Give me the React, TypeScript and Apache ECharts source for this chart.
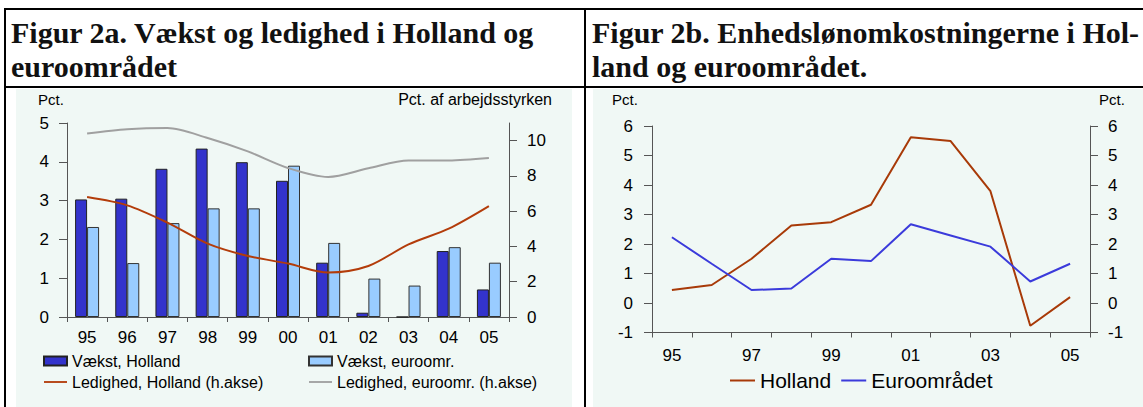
import React, { useEffect, useRef } from "react";
import * as echarts from "echarts";

const years = ["95", "96", "97", "98", "99", "00", "01", "02", "03", "04", "05"];
const growthNL = [3.03, 3.05, 3.82, 4.34, 3.99, 3.51, 1.4, 0.11, 0, 1.7, 0.71];
const growthEA = [2.32, 1.39, 2.42, 2.8, 2.8, 3.9, 1.91, 0.99, 0.81, 1.8, 1.4];
const unempNL = [6.8, 6.33, 5.35, 4.16, 3.46, 3.03, 2.52, 2.89, 4.12, 5.01, 6.29];
const unempEA = [10.4, 10.64, 10.71, 10.15, 9.39, 8.45, 7.94, 8.43, 8.87, 8.87, 9.01];
const ulcNL = [0.44, 0.61, 1.5, 2.63, 2.74, 3.33, 5.62, 5.49, 3.79, -0.77, 0.2];
const ulcEA = [2.23, 1.33, 0.44, 0.49, 1.5, 1.42, 2.67, 2.29, 1.91, 0.73, 1.33];
const rightTicks = [0, 2, 4, 6, 8, 10];

const SANS = "'Liberation Sans', Arial, sans-serif";
const SERIF = "'Liberation Serif', 'Times New Roman', serif";
const AXIS_COLOR = "#555";
const BG = "#f0f8f5";
const LINE_ICON = "path://M0,0H25V2H0Z";

export default function App() {
  const ref = useRef<HTMLDivElement>(null);
  useEffect(() => {
    if (!ref.current) return;
    const chart = echarts.init(ref.current, null, { renderer: "svg" });
    const axisLine = { show: true, onZero: false, lineStyle: { color: AXIS_COLOR, width: 1 } };
    const label = (extra: any = {}) => ({ color: "#000", fontSize: 17, fontFamily: SANS, ...extra });
    const titleFont = `bold 30px ${SERIF}`;
    chart.setOption({
      animation: false,
      backgroundColor: "#fff",
      grid: [
        { left: 67, right: 634, top: 123, bottom: 90 },
        { left: 652, right: 53, top: 126, bottom: 74.5 },
      ],
      xAxis: [
        {
          gridIndex: 0,
          type: "category",
          data: years,
          boundaryGap: true,
          axisLine,
          axisTick: { show: true, length: 5, interval: 0, lineStyle: { color: AXIS_COLOR } },
          axisLabel: label({ margin: 12, interval: 0 }),
        },
        {
          gridIndex: 1,
          type: "category",
          data: years,
          boundaryGap: true,
          axisLine,
          axisTick: { show: true, length: 5, interval: 0, lineStyle: { color: AXIS_COLOR } },
          axisLabel: label({ margin: 14, interval: 1 }),
        },
      ],
      yAxis: [
        {
          gridIndex: 0,
          type: "value",
          min: 0,
          max: 5,
          interval: 1,
          position: "left",
          axisLine,
          axisTick: { show: true, length: 8, lineStyle: { color: AXIS_COLOR } },
          splitLine: { show: false },
          axisLabel: label({ margin: 18 }),
        },
        {
          gridIndex: 0,
          type: "value",
          min: 0,
          max: 11,
          interval: 2,
          position: "right",
          axisLine,
          axisTick: { show: true, length: 8, customValues: rightTicks, lineStyle: { color: AXIS_COLOR } },
          splitLine: { show: false },
          axisLabel: label({ margin: 18, customValues: rightTicks }),
        },
        {
          gridIndex: 1,
          type: "value",
          min: -1,
          max: 6,
          interval: 1,
          position: "left",
          axisLine,
          axisTick: { show: true, length: 8, lineStyle: { color: AXIS_COLOR } },
          splitLine: { show: false },
          axisLabel: label({ margin: 19 }),
        },
        {
          gridIndex: 1,
          type: "value",
          min: -1,
          max: 6,
          interval: 1,
          position: "right",
          axisLine,
          axisTick: { show: true, length: 8, lineStyle: { color: AXIS_COLOR } },
          splitLine: { show: false },
          axisLabel: label({ margin: 18 }),
        },
      ],
      legend: [
        {
          left: 43,
          top: 353,
          orient: "vertical",
          padding: 0,
          itemWidth: 23,
          itemHeight: 9,
          itemGap: 5,
          textStyle: { fontSize: 16, fontFamily: SANS, color: "#000" },
          data: [
            { name: "Vækst, Holland", icon: "rect" },
            { name: "Ledighed, Holland (h.akse)", icon: LINE_ICON },
          ],
        },
        {
          left: 308,
          top: 353,
          orient: "vertical",
          padding: 0,
          itemWidth: 23,
          itemHeight: 9,
          itemGap: 5,
          textStyle: { fontSize: 16, fontFamily: SANS, color: "#000" },
          data: [
            { name: "Vækst, euroomr.", icon: "rect" },
            { name: "Ledighed, euroomr. (h.akse)", icon: LINE_ICON },
          ],
        },
        {
          left: 730,
          top: 370,
          orient: "horizontal",
          padding: 0,
          itemWidth: 25,
          itemHeight: 9,
          itemGap: 10,
          textStyle: { fontSize: 21, fontFamily: SANS, color: "#000" },
          data: [
            { name: "Holland", icon: LINE_ICON },
            { name: "Euroområdet", icon: LINE_ICON },
          ],
        },
      ],
      series: [
        {
          name: "Vækst, Holland",
          type: "bar",
          xAxisIndex: 0,
          yAxisIndex: 0,
          data: growthNL,
          barWidth: 12,
          barGap: "0%",
          itemStyle: { color: "#3333cc", borderColor: "#222", borderWidth: 1 },
        },
        {
          name: "Vækst, euroomr.",
          type: "bar",
          xAxisIndex: 0,
          yAxisIndex: 0,
          data: growthEA,
          barWidth: 12,
          barGap: "0%",
          itemStyle: { color: "#99ccff", borderColor: "#333", borderWidth: 1 },
        },
        {
          name: "Ledighed, Holland (h.akse)",
          type: "line",
          xAxisIndex: 0,
          yAxisIndex: 1,
          data: unempNL,
          smooth: 0.3,
          symbol: "none",
          lineStyle: { color: "#b33c0a", width: 2 },
          itemStyle: { color: "#b33c0a" },
          z: 5,
        },
        {
          name: "Ledighed, euroomr. (h.akse)",
          type: "line",
          xAxisIndex: 0,
          yAxisIndex: 1,
          data: unempEA,
          smooth: 0.3,
          symbol: "none",
          lineStyle: { color: "#a0a0a0", width: 2 },
          itemStyle: { color: "#a0a0a0" },
          z: 5,
        },
        {
          name: "Holland",
          type: "line",
          xAxisIndex: 1,
          yAxisIndex: 2,
          data: ulcNL,
          symbol: "none",
          lineStyle: { color: "#a83a08", width: 2 },
          itemStyle: { color: "#a83a08" },
        },
        {
          name: "Euroområdet",
          type: "line",
          xAxisIndex: 1,
          yAxisIndex: 2,
          data: ulcEA,
          symbol: "none",
          lineStyle: { color: "#3b3bdb", width: 2 },
          itemStyle: { color: "#3b3bdb" },
        },
      ],
      graphic: [
        { type: "rect", z: -10, shape: { x: 16, y: 89, width: 556, height: 318 }, style: { fill: BG } },
        { type: "rect", z: -10, shape: { x: 593, y: 89, width: 550, height: 318 }, style: { fill: BG } },
        { type: "line", shape: { x1: 4, y1: 9, x2: 1143, y2: 9 }, style: { stroke: "#000", lineWidth: 2 } },
        { type: "line", shape: { x1: 4, y1: 87, x2: 1143, y2: 87 }, style: { stroke: "#000", lineWidth: 2 } },
        { type: "line", shape: { x1: 5, y1: 8, x2: 5, y2: 407 }, style: { stroke: "#000", lineWidth: 2 } },
        { type: "line", shape: { x1: 585, y1: 8, x2: 585, y2: 407 }, style: { stroke: "#000", lineWidth: 2 } },
        {
          type: "text",
          x: 11,
          y: 32,
          style: { text: "Figur 2a. Vækst og ledighed i Holland og", font: titleFont, fill: "#111", verticalAlign: "middle" },
        },
        {
          type: "text",
          x: 11,
          y: 66,
          style: { text: "euroområdet", font: titleFont, fill: "#111", verticalAlign: "middle" },
        },
        {
          type: "text",
          x: 592,
          y: 32,
          style: { text: "Figur 2b. Enhedslønomkostningerne i Hol-", font: titleFont, fill: "#111", verticalAlign: "middle" },
        },
        {
          type: "text",
          x: 592,
          y: 66,
          style: { text: "land og euroområdet.", font: titleFont, fill: "#111", verticalAlign: "middle" },
        },
        { type: "text", x: 38, y: 99, style: { text: "Pct.", font: `15px ${SANS}`, fill: "#000", verticalAlign: "middle" } },
        {
          type: "text",
          x: 552,
          y: 99,
          style: { text: "Pct. af arbejdsstyrken", font: `16px ${SANS}`, fill: "#000", verticalAlign: "middle", align: "right" },
        },
        { type: "text", x: 612, y: 99, style: { text: "Pct.", font: `15px ${SANS}`, fill: "#000", verticalAlign: "middle" } },
        { type: "text", x: 1099, y: 99, style: { text: "Pct.", font: `15px ${SANS}`, fill: "#000", verticalAlign: "middle" } },
      ],
    });
    return () => chart.dispose();
  }, []);
  return <div ref={ref} style={{ position: "absolute", left: 0, top: 0, width: 1143, height: 407 }} />;
}
